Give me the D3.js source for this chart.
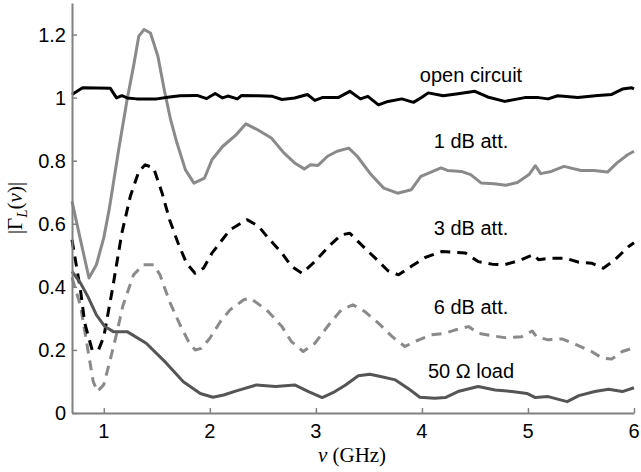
<!DOCTYPE html>
<html>
<head>
<meta charset="utf-8">
<script src="https://cdn.jsdelivr.net/npm/d3@7"></script>
<style>
  html, body { margin: 0; padding: 0; background: #ffffff; }
  svg { display: block; }
  .tick-label { font-family: "Liberation Sans", Arial, sans-serif; font-size: 20px; fill: #000; }
  .curve-label { font-family: "Liberation Sans", Arial, sans-serif; font-size: 20px; fill: #000; }
  .axis-title { font-family: "Liberation Serif", "DejaVu Serif", serif; font-size: 21px; fill: #000; }
</style>
</head>
<body>
<div id="chart"></div>
<script>
// frequency axis ticks and reflection magnitude ticks
const xTicks = [1, 2, 3, 4, 5, 6];
const yTicks = [0, 0.2, 0.4, 0.6, 0.8, 1, 1.2];
const yTickLabels = ['0', '0.2', '0.4', '0.6', '0.8', '1', '1.2'];

// open circuit
const openNu = [0.70, 0.80, 1.06, 1.12, 1.17, 1.22, 1.31, 1.50, 1.62, 1.72, 1.88, 1.97, 2.05, 2.12, 2.17, 2.26, 2.30, 2.46, 2.59, 2.68, 2.80, 2.92, 2.99, 3.06, 3.21, 3.32, 3.42, 3.49, 3.59, 3.68, 3.81, 3.92, 4.00, 4.06, 4.20, 4.34, 4.50, 4.62, 4.78, 4.97, 5.10, 5.19, 5.28, 5.47, 5.66, 5.79, 5.89, 5.98, 6.00];
const openVal = [1.010, 1.031, 1.030, 0.999, 1.006, 0.999, 0.996, 0.996, 1.002, 1.006, 1.007, 0.997, 1.013, 0.999, 1.005, 0.996, 1.007, 1.006, 1.004, 0.994, 0.999, 1.010, 0.991, 1.000, 1.000, 1.020, 0.996, 1.004, 0.977, 0.988, 0.996, 0.985, 1.001, 1.015, 1.006, 1.012, 1.020, 1.002, 0.988, 1.000, 1.000, 0.996, 1.006, 1.000, 1.007, 1.010, 1.027, 1.031, 1.028];

// 1 dB attenuator
const att1Nu = [0.70, 0.78, 0.86, 0.93, 1.00, 1.05, 1.14, 1.22, 1.28, 1.33, 1.38, 1.44, 1.51, 1.57, 1.63, 1.69, 1.77, 1.85, 1.95, 2.02, 2.12, 2.25, 2.34, 2.45, 2.58, 2.70, 2.80, 2.89, 2.95, 3.02, 3.11, 3.20, 3.31, 3.39, 3.52, 3.64, 3.77, 3.90, 3.99, 4.08, 4.18, 4.24, 4.37, 4.46, 4.56, 4.68, 4.79, 4.90, 5.01, 5.07, 5.12, 5.22, 5.34, 5.50, 5.62, 5.75, 5.84, 5.94, 6.00];
const att1Val = [0.671, 0.549, 0.428, 0.470, 0.556, 0.644, 0.835, 0.994, 1.099, 1.195, 1.216, 1.205, 1.131, 1.025, 0.930, 0.856, 0.771, 0.729, 0.745, 0.803, 0.845, 0.883, 0.917, 0.898, 0.872, 0.824, 0.793, 0.774, 0.787, 0.785, 0.814, 0.830, 0.840, 0.814, 0.756, 0.713, 0.697, 0.708, 0.750, 0.763, 0.777, 0.769, 0.766, 0.756, 0.729, 0.727, 0.722, 0.731, 0.756, 0.784, 0.759, 0.766, 0.782, 0.769, 0.769, 0.764, 0.793, 0.819, 0.830];

// 3 dB attenuator
const att3Nu = [0.70, 0.78, 0.82, 0.89, 0.95, 1.00, 1.08, 1.17, 1.25, 1.33, 1.39, 1.47, 1.55, 1.62, 1.70, 1.78, 1.86, 1.94, 2.02, 2.13, 2.19, 2.35, 2.46, 2.55, 2.68, 2.77, 2.87, 2.99, 3.12, 3.24, 3.32, 3.43, 3.56, 3.68, 3.78, 3.90, 4.03, 4.19, 4.41, 4.53, 4.66, 4.78, 4.94, 5.05, 5.10, 5.22, 5.35, 5.48, 5.60, 5.71, 5.82, 5.95, 6.00];
const att3Val = [0.549, 0.390, 0.285, 0.200, 0.200, 0.242, 0.390, 0.570, 0.687, 0.766, 0.787, 0.777, 0.697, 0.613, 0.539, 0.475, 0.443, 0.459, 0.507, 0.555, 0.581, 0.613, 0.592, 0.555, 0.507, 0.465, 0.443, 0.480, 0.528, 0.565, 0.570, 0.533, 0.491, 0.451, 0.438, 0.465, 0.493, 0.512, 0.507, 0.480, 0.472, 0.470, 0.486, 0.502, 0.486, 0.491, 0.491, 0.478, 0.475, 0.459, 0.486, 0.528, 0.540];

// 6 dB attenuator
const att6Nu = [0.70, 0.78, 0.85, 0.90, 0.94, 1.00, 1.06, 1.12, 1.18, 1.28, 1.37, 1.47, 1.53, 1.62, 1.72, 1.80, 1.86, 1.92, 2.00, 2.10, 2.19, 2.32, 2.38, 2.44, 2.55, 2.68, 2.77, 2.88, 2.99, 3.12, 3.24, 3.35, 3.46, 3.59, 3.72, 3.84, 3.97, 4.09, 4.22, 4.31, 4.44, 4.53, 4.66, 4.78, 4.94, 5.04, 5.08, 5.19, 5.32, 5.46, 5.60, 5.70, 5.79, 5.89, 5.98, 6.00];
const att6Val = [0.430, 0.340, 0.200, 0.100, 0.068, 0.090, 0.168, 0.250, 0.340, 0.438, 0.470, 0.470, 0.438, 0.353, 0.279, 0.226, 0.200, 0.205, 0.237, 0.290, 0.327, 0.359, 0.364, 0.350, 0.322, 0.274, 0.226, 0.195, 0.221, 0.279, 0.327, 0.343, 0.322, 0.285, 0.242, 0.211, 0.232, 0.248, 0.253, 0.263, 0.274, 0.253, 0.245, 0.239, 0.242, 0.260, 0.242, 0.232, 0.235, 0.216, 0.195, 0.174, 0.171, 0.195, 0.205, 0.205];

// 50 ohm load
const loadNu = [0.70, 0.78, 0.85, 0.93, 1.01, 1.09, 1.22, 1.40, 1.59, 1.75, 1.91, 2.03, 2.13, 2.25, 2.44, 2.62, 2.80, 2.93, 3.06, 3.18, 3.28, 3.40, 3.51, 3.62, 3.75, 3.87, 3.98, 4.12, 4.22, 4.34, 4.53, 4.69, 4.85, 4.99, 5.07, 5.19, 5.37, 5.48, 5.63, 5.76, 5.89, 6.00];
const loadVal = [0.449, 0.412, 0.369, 0.311, 0.274, 0.258, 0.258, 0.221, 0.158, 0.099, 0.062, 0.050, 0.057, 0.070, 0.089, 0.084, 0.089, 0.068, 0.049, 0.068, 0.089, 0.118, 0.123, 0.115, 0.105, 0.078, 0.050, 0.047, 0.049, 0.068, 0.084, 0.073, 0.068, 0.062, 0.049, 0.052, 0.036, 0.055, 0.068, 0.075, 0.068, 0.080];

const seriesNames = ['open circuit', '1 dB att.', '3 dB att.', '6 dB att.', '50 Ω load'];
const labelPos = [[471, 1.05], [471, 0.84], [471, 0.565], [471, 0.315], [471, 0.11]];

const width = 641, height = 472;
const margin = { top: 3, right: 7, bottom: 59, left: 72 };

const x = d3.scaleLinear().domain([0.7, 6]).range([margin.left, width - margin.right]);
const y = d3.scaleLinear().domain([0, 1.3]).range([height - margin.bottom, margin.top]);

const svg = d3.select('#chart').append('svg')
  .attr('width', width)
  .attr('height', height);

const series = [
  { nu: att6Nu, val: att6Val, color: '#8a8a8a', dash: '10 7' },
  { nu: att3Nu, val: att3Val, color: '#000000', dash: '10 7' },
  { nu: loadNu, val: loadVal, color: '#555555', dash: null },
  { nu: att1Nu, val: att1Val, color: '#8a8a8a', dash: null },
  { nu: openNu, val: openVal, color: '#000000', dash: null }
];

const line = d3.line()
  .x(d => x(d[0]))
  .y(d => y(d[1]));

series.forEach(s => {
  svg.append('path')
    .datum(s.nu.map((n, i) => [n, s.val[i]]))
    .attr('fill', 'none')
    .attr('stroke', s.color)
    .attr('stroke-width', 3)
    .attr('stroke-linejoin', 'round')
    .attr('stroke-dasharray', s.dash)
    .attr('d', line);
});

// axes: grey lines, ticks pointing inward
const axisColor = '#808080';
const xAxis = svg.append('g')
  .attr('transform', `translate(0,${y(0)})`)
  .call(d3.axisBottom(x).tickValues(xTicks).tickSizeInner(-5).tickSizeOuter(0).tickFormat(''));
const yAxis = svg.append('g')
  .attr('transform', `translate(${x(0.7)},0)`)
  .call(d3.axisLeft(y).tickValues(yTicks).tickSizeInner(-5).tickSizeOuter(0).tickFormat(''));
[xAxis, yAxis].forEach(a => {
  a.select('.domain').attr('stroke', axisColor).attr('stroke-width', 2);
  a.selectAll('.tick line').attr('stroke', axisColor).attr('stroke-width', 1.5);
});

svg.selectAll('.xtl')
  .data(xTicks)
  .join('text')
  .attr('class', 'tick-label')
  .attr('x', d => x(d))
  .attr('y', y(0) + 25)
  .attr('text-anchor', 'middle')
  .text(d => d);

svg.selectAll('.ytl')
  .data(yTicks)
  .join('text')
  .attr('class', 'tick-label')
  .attr('x', x(0.7) - 6)
  .attr('y', d => y(d) + 7)
  .attr('text-anchor', 'end')
  .text((d, i) => yTickLabels[i]);

seriesNames.forEach((name, i) => {
  svg.append('text')
    .attr('class', 'curve-label')
    .attr('x', labelPos[i][0])
    .attr('y', y(labelPos[i][1]))
    .attr('text-anchor', 'middle')
    .text(name);
});

// axis titles
const xt = svg.append('text')
  .attr('class', 'axis-title')
  .attr('x', 352)
  .attr('y', 462)
  .attr('text-anchor', 'middle');
xt.append('tspan').attr('font-style', 'italic').text('ν');
xt.append('tspan').text(' (GHz)');

const yt = svg.append('text')
  .attr('class', 'axis-title')
  .attr('transform', `translate(22,${y(0.65)}) rotate(-90)`)
  .attr('text-anchor', 'middle');
yt.append('tspan').text('|Γ');
yt.append('tspan').attr('font-style', 'italic').attr('font-size', 15).attr('dy', 5).text('L');
yt.append('tspan').attr('dy', -5).text('(');
yt.append('tspan').attr('font-style', 'italic').text('ν');
yt.append('tspan').text(')|');
</script>
</body>
</html>
